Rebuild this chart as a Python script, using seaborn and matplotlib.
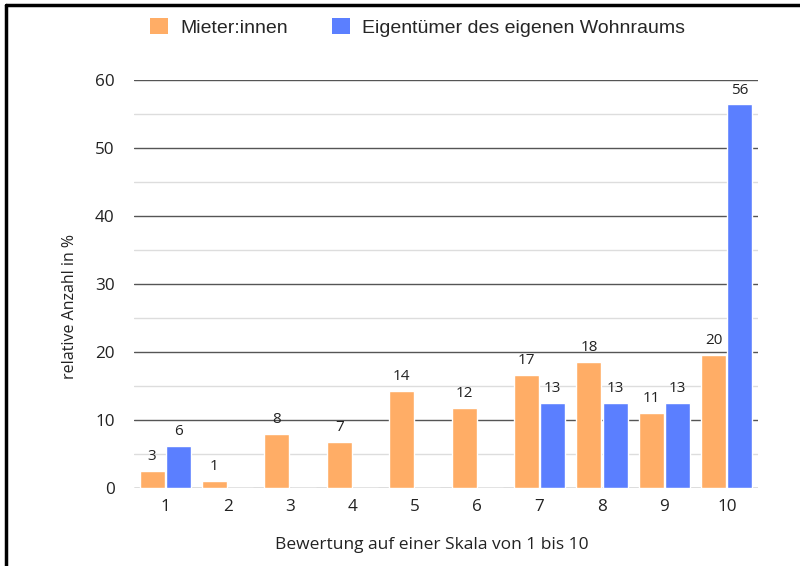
import matplotlib
matplotlib.use('Agg')
import matplotlib.pyplot as plt
from matplotlib.lines import Line2D
from matplotlib.patches import Patch
import seaborn as sns
import pandas as pd

# %% Data
bewertung = ['1', '2', '3', '4', '5', '6', '7', '8', '9', '10']
mieter = [2.5, 1.1, 8.0, 6.7, 14.2, 11.7, 16.6, 18.5, 11.0, 19.6]
eigentuemer = [6.2, 0, 0, 0, 0, 0, 12.5, 12.5, 12.5, 56.4]
mieter_labels = ['3', '1', '8', '7', '14', '12', '17', '18', '11', '20']
eigentuemer_labels = ['6', '', '', '', '', '', '13', '13', '13', '56']
gruppen = ['Mieter:innen', 'Eigentümer des eigenen Wohnraums']
farben = ['#FFAD66', '#5B7FFF']

df = pd.DataFrame({
    'Bewertung': bewertung * 2,
    'Wert': mieter + eigentuemer,
    'Gruppe': [gruppen[0]] * len(bewertung) + [gruppen[1]] * len(bewertung),
})

# %% Plot
sns.set_style('white')
plt.rcParams['font.family'] = ['Open Sans', 'DejaVu Sans']

fig = plt.figure(figsize=(8, 5.66), dpi=100)
ax = fig.add_axes([0.1675, 0.1378, 0.78, 0.7209])

sns.barplot(data=df, x='Bewertung', y='Wert', hue='Gruppe', hue_order=gruppen,
            order=bewertung, palette=farben, width=0.84, gap=0.05,
            saturation=1, legend=False, ax=ax, zorder=3)

for cont, lbls in zip(ax.containers, [mieter_labels, eigentuemer_labels]):
    ax.bar_label(cont, labels=lbls, padding=5, fontsize=11, color='#222222')

# grid: dark lines every 10, light lines every 5
ax.set_ylim(0, 60)
ax.set_yticks(range(0, 61, 10))
ax.set_yticks(range(5, 60, 10), minor=True)
ax.grid(axis='y', which='major', color='#555555', linewidth=1.0, zorder=0)
ax.grid(axis='y', which='minor', color='#DDDDDD', linewidth=1.0, zorder=0)
ax.set_axisbelow(True)
for s in ax.spines.values():
    s.set_visible(False)
ax.tick_params(axis='both', which='both', length=0, labelsize=12.3, colors='#222222')
ax.tick_params(axis='y', pad=14)
ax.tick_params(axis='x', pad=8)

ax.set_xlabel('Bewertung auf einer Skala von 1 bis 10', fontsize=12.5, color='#222222')
ax.set_ylabel('relative Anzahl in %', fontsize=11.5, color='#222222')
ax.xaxis.set_label_coords(0.478, -0.12)
ax.yaxis.set_label_coords(-0.09, 0.446)

handles = [Patch(facecolor=c, edgecolor='none') for c in farben]
fig.legend(handles, gruppen, loc='center left', bbox_to_anchor=(0.1775, 0.952),
           ncol=2, frameon=False, handlelength=0.95, handleheight=0.95,
           handletextpad=0.62, columnspacing=2.25, borderaxespad=0,
           prop={'family': ['Liberation Sans', 'DejaVu Sans'], 'size': 14})

# black frame lines at top and left edge
fig.add_artist(Line2D([5.5 / 800, 1], [1 - 5 / 566, 1 - 5 / 566], color='black', linewidth=2.5))
fig.add_artist(Line2D([6 / 800, 6 / 800], [0, 1 - 5 / 566], color='black', linewidth=2.5))

fig.savefig('out.png', dpi=100, facecolor='white')
